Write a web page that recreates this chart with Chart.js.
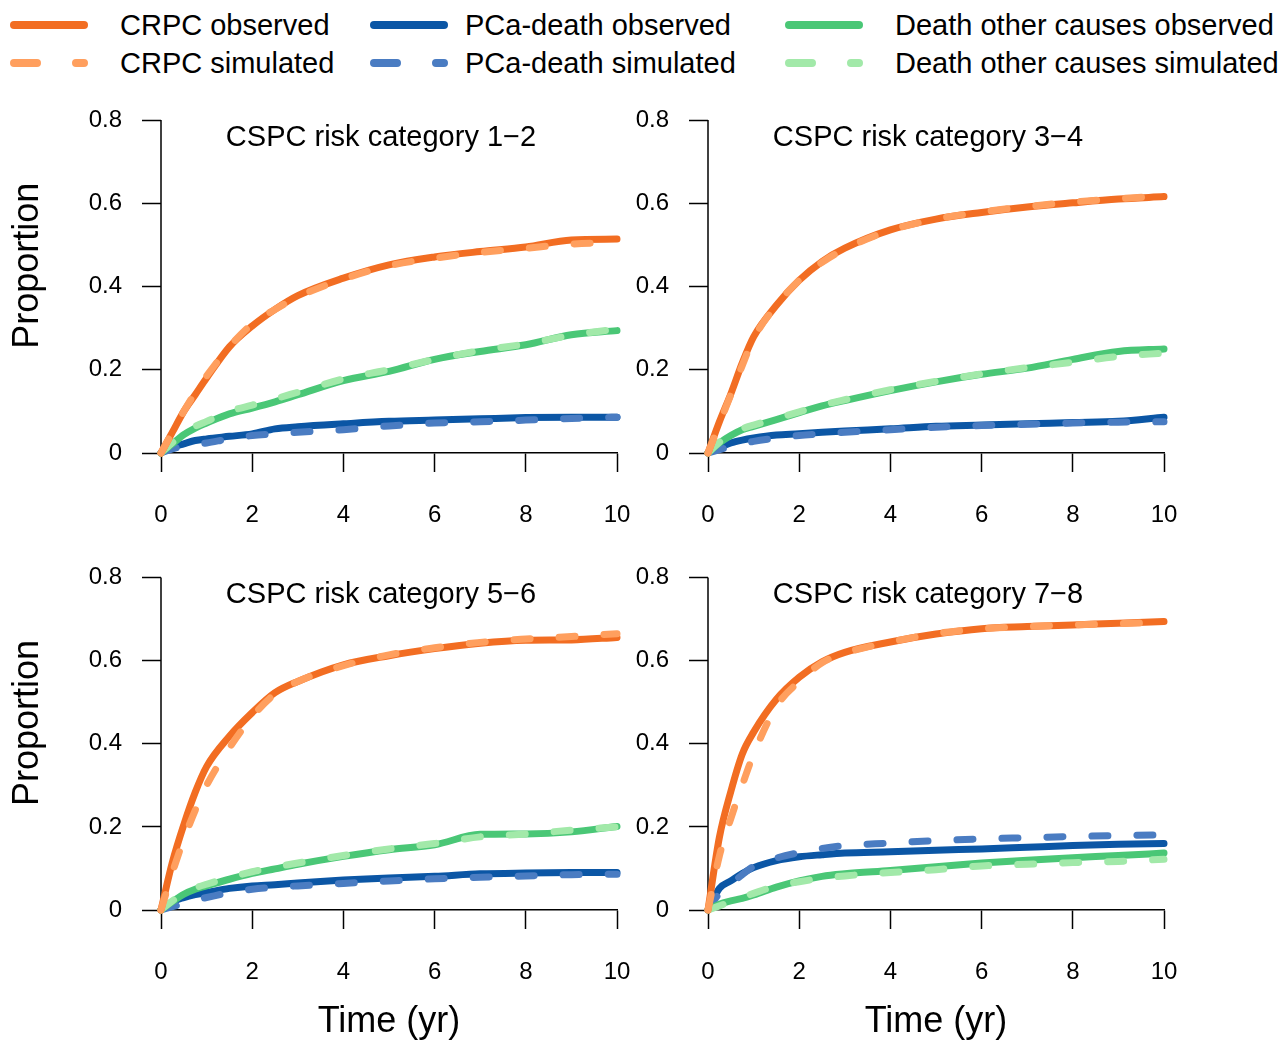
<!DOCTYPE html>
<html>
<head>
<meta charset="utf-8">
<title>CRPC, PCa-death and other-cause death: observed vs simulated</title>
<script src="https://cdn.jsdelivr.net/npm/chart.js@4.4.1/dist/chart.umd.min.js"></script>
<style>
  body {
    margin: 0;
    width: 1282px;
    height: 1041px;
    position: relative;
    overflow: hidden;
    background: #fff;
    font-family: "Liberation Sans", Arial, Helvetica, sans-serif;
  }
  canvas { position: absolute; }
  .key {
    position: absolute;
    height: 34px;
    line-height: 34px;
    font-size: 29px;
    color: #000;
    white-space: nowrap;
  }
  .key svg { position: absolute; left: 0; top: 0; }
  .key span { position: absolute; top: 0; }
</style>
</head>
<body>
<div id="legend"></div>
<canvas id="cat12" width="641" height="470"></canvas>
<canvas id="cat34" width="682" height="470"></canvas>
<canvas id="cat56" width="641" height="514"></canvas>
<canvas id="cat78" width="682" height="514"></canvas>

<script>
// time grid (years) the curves were read at
const timeYears = [0, 0.25, 0.5, 0.75, 1, 1.5, 2, 2.5, 3, 4, 5, 6, 7, 8, 9, 10];
const xTicks = [0, 2, 4, 6, 8, 10];
const yTicks = [0, 0.2, 0.4, 0.6, 0.8];

const seriesNames = [
  "CRPC observed", "CRPC simulated",
  "PCa-death observed", "PCa-death simulated",
  "Death other causes observed", "Death other causes simulated",
];
const panelTitles = [
  "CSPC risk category 1\u22122",
  "CSPC risk category 3\u22124",
  "CSPC risk category 5\u22126",
  "CSPC risk category 7\u22128",
];

// risk category 1-2
const crpcObs12  = [0, 0.05, 0.10, 0.14, 0.18, 0.255, 0.305, 0.345, 0.378, 0.42, 0.452, 0.471, 0.484, 0.495, 0.512, 0.514];
const crpcSim12  = [0, 0.05, 0.10, 0.145, 0.185, 0.255, 0.31, 0.345, 0.375, 0.418, 0.45, 0.468, 0.482, 0.492, 0.502, 0.506];
const pcaObs12   = [0, 0.014, 0.022, 0.03, 0.034, 0.04, 0.046, 0.058, 0.063, 0.07, 0.076, 0.079, 0.082, 0.085, 0.086, 0.086];
const pcaSim12   = [0, 0.01, 0.016, 0.02, 0.024, 0.034, 0.042, 0.046, 0.05, 0.056, 0.065, 0.072, 0.075, 0.079, 0.083, 0.086];
const otherObs12 = [0, 0.022, 0.044, 0.06, 0.072, 0.094, 0.108, 0.123, 0.14, 0.174, 0.196, 0.225, 0.244, 0.26, 0.284, 0.294];
const otherSim12 = [0, 0.025, 0.048, 0.064, 0.076, 0.10, 0.115, 0.13, 0.146, 0.178, 0.20, 0.225, 0.246, 0.262, 0.283, 0.298];

// risk category 3-4
const crpcObs34  = [0, 0.075, 0.142, 0.216, 0.279, 0.355, 0.415, 0.46, 0.492, 0.536, 0.562, 0.578, 0.591, 0.601, 0.61, 0.616];
const crpcSim34  = [0, 0.07, 0.14, 0.21, 0.275, 0.355, 0.415, 0.458, 0.49, 0.535, 0.562, 0.579, 0.592, 0.603, 0.611, 0.618];
const pcaObs34   = [0, 0.013, 0.024, 0.031, 0.036, 0.043, 0.046, 0.05, 0.053, 0.058, 0.064, 0.067, 0.07, 0.073, 0.076, 0.086];
const pcaSim34   = [0, 0.008, 0.016, 0.022, 0.028, 0.036, 0.042, 0.046, 0.05, 0.056, 0.062, 0.066, 0.069, 0.072, 0.074, 0.075];
const otherObs34 = [0, 0.024, 0.042, 0.056, 0.064, 0.08, 0.097, 0.113, 0.126, 0.15, 0.171, 0.189, 0.204, 0.225, 0.244, 0.25];
const otherSim34 = [0, 0.026, 0.044, 0.058, 0.067, 0.083, 0.099, 0.115, 0.128, 0.152, 0.172, 0.19, 0.205, 0.218, 0.232, 0.24];

// risk category 5-6
const crpcObs56  = [0, 0.115, 0.205, 0.283, 0.345, 0.418, 0.475, 0.523, 0.55, 0.59, 0.612, 0.629, 0.642, 0.649, 0.65, 0.656];
const crpcSim56  = [0, 0.09, 0.17, 0.24, 0.30, 0.39, 0.465, 0.52, 0.55, 0.588, 0.614, 0.631, 0.644, 0.652, 0.658, 0.665];
const pcaObs56   = [0, 0.02, 0.03, 0.037, 0.042, 0.052, 0.058, 0.061, 0.065, 0.072, 0.077, 0.081, 0.087, 0.089, 0.09, 0.09];
const pcaSim56   = [0, 0.008, 0.016, 0.024, 0.03, 0.042, 0.05, 0.055, 0.058, 0.064, 0.07, 0.075, 0.079, 0.082, 0.085, 0.086];
const otherObs56 = [0, 0.02, 0.038, 0.05, 0.058, 0.074, 0.088, 0.099, 0.11, 0.129, 0.145, 0.157, 0.182, 0.183, 0.188, 0.201];
const otherSim56 = [0, 0.022, 0.04, 0.053, 0.062, 0.078, 0.092, 0.103, 0.113, 0.131, 0.147, 0.16, 0.176, 0.183, 0.192, 0.20];

// risk category 7-8
const crpcObs78  = [0, 0.175, 0.285, 0.375, 0.428, 0.507, 0.56, 0.597, 0.62, 0.645, 0.664, 0.677, 0.682, 0.686, 0.69, 0.694];
const crpcSim78  = [0, 0.13, 0.22, 0.30, 0.375, 0.49, 0.55, 0.595, 0.618, 0.645, 0.665, 0.677, 0.682, 0.686, 0.689, 0.692];
const pcaObs78   = [0, 0.052, 0.07, 0.088, 0.102, 0.119, 0.128, 0.133, 0.137, 0.14, 0.144, 0.147, 0.151, 0.155, 0.158, 0.16];
const pcaSim78   = [0, 0.04, 0.062, 0.085, 0.105, 0.125, 0.138, 0.148, 0.155, 0.161, 0.167, 0.171, 0.174, 0.177, 0.179, 0.181];
const otherObs78 = [0, 0.014, 0.022, 0.028, 0.036, 0.055, 0.07, 0.081, 0.087, 0.095, 0.104, 0.113, 0.12, 0.126, 0.131, 0.137];
const otherSim78 = [0, 0.01, 0.02, 0.03, 0.04, 0.058, 0.068, 0.076, 0.082, 0.09, 0.097, 0.106, 0.11, 0.114, 0.117, 0.122];

// styles, same order as seriesNames
const lineColors = ["#f26d22", "#ff9f5e", "#0b56a5", "#4a7cc2", "#4ac776", "#a2e9a9"];
const dashed = [false, true, false, true, false, true];
const drawOrder = [1, 0, 5, 4, 3, 2]; // lower = on top

const FONT = '"Liberation Sans", Arial, Helvetica, sans-serif';
Chart.defaults.font.family = FONT;
Chart.defaults.color = "#000";

// legend (html)
const legendCols = [
  { line: 10, text: 120 },
  { line: 370, text: 465 },
  { line: 785, text: 895 },
];
const legendRows = [25, 63];
const legendBox = document.getElementById("legend");
seriesNames.forEach((name, i) => {
  const col = legendCols[Math.floor(i / 2)];
  const row = legendRows[i % 2];
  const div = document.createElement("div");
  div.className = "key";
  div.style.left = col.line + "px";
  div.style.top = (row - 17) + "px";
  const dash = dashed[i] ? ' stroke-dasharray="23 39"' : "";
  div.innerHTML =
    '<svg width="80" height="34"><line x1="4" y1="17" x2="74" y2="17" stroke="' + lineColors[i] +
    '" stroke-width="8" stroke-linecap="round"' + dash + '/></svg>' +
    '<span style="left:' + (col.text - col.line) + 'px">' + name + "</span>";
  legendBox.appendChild(div);
});

// y axis line only over the tick range, plus panel label inside the plot
const panelDecor = {
  id: "panelDecor",
  beforeDatasetsDraw(chart) {
    const { ctx, chartArea, scales } = chart;
    ctx.save();
    ctx.strokeStyle = "#000";
    ctx.lineWidth = 1.5;
    ctx.beginPath();
    ctx.moveTo(chartArea.left, scales.y.getPixelForValue(yTicks[0]) + 0.75);
    ctx.lineTo(chartArea.left, scales.y.getPixelForValue(yTicks[yTicks.length - 1]));
    ctx.stroke();
    ctx.restore();
  },
  afterDraw(chart, args, opts) {
    const { ctx, chartArea, scales } = chart;
    ctx.save();
    ctx.fillStyle = "#000";
    ctx.font = "29px " + FONT;
    ctx.textAlign = "center";
    ctx.textBaseline = "middle";
    ctx.fillText(opts.text, chartArea.left + 220, scales.y.getPixelForValue(0.757));
    ctx.restore();
  },
};

// keep label overhang from pushing the plot area around
function noOverhang(s) {
  s.paddingLeft = 0;
  s.paddingRight = 0;
  s.paddingTop = 0;
  s.paddingBottom = 0;
}

const panels = [
  { id: "cat12", left: 0,   top: 70,  w: 641, h: 470, area: [161, 617, 78.4, 453], yTitle: true,  xTitle: false,
    series: [crpcObs12, crpcSim12, pcaObs12, pcaSim12, otherObs12, otherSim12] },
  { id: "cat34", left: 600, top: 70,  w: 682, h: 470, area: [708, 1164, 78.4, 453], yTitle: false, xTitle: false,
    series: [crpcObs34, crpcSim34, pcaObs34, pcaSim34, otherObs34, otherSim34] },
  { id: "cat56", left: 0,   top: 527, w: 641, h: 514, area: [161, 617, 536, 910], yTitle: true,  xTitle: true,
    series: [crpcObs56, crpcSim56, pcaObs56, pcaSim56, otherObs56, otherSim56] },
  { id: "cat78", left: 600, top: 527, w: 682, h: 514, area: [708, 1164, 536, 910], yTitle: false, xTitle: true,
    series: [crpcObs78, crpcSim78, pcaObs78, pcaSim78, otherObs78, otherSim78] },
];

panels.forEach((p, k) => {
  const canvas = document.getElementById(p.id);
  canvas.style.left = p.left + "px";
  canvas.style.top = p.top + "px";
  const [aLeft, aRight, aTop, aBottom] = p.area;

  const datasets = p.series.map((vals, i) => ({
    label: seriesNames[i],
    data: timeYears.map((t, j) => ({ x: t, y: vals[j] })),
    borderColor: lineColors[i],
    backgroundColor: lineColors[i],
    borderWidth: 7,
    borderDash: dashed[i] ? [16, 29] : [],
    borderCapStyle: "round",
    borderJoinStyle: "round",
    cubicInterpolationMode: "monotone",
    pointRadius: 0,
    fill: false,
    clip: false,
    order: drawOrder[i],
  }));

  new Chart(canvas, {
    type: "line",
    data: { datasets },
    options: {
      responsive: false,
      animation: false,
      events: [],
      layout: {
        padding: { left: 0, top: aTop - p.top, right: p.left + p.w - aRight, bottom: 0 },
      },
      plugins: {
        legend: { display: false },
        tooltip: { enabled: false },
        panelDecor: { text: panelTitles[k] },
      },
      scales: {
        x: {
          type: "linear",
          min: 0,
          max: 10,
          afterBuildTicks: (s) => { s.ticks = xTicks.map((v) => ({ value: v })); },
          afterFit: (s) => { s.height = p.top + p.h - aBottom; noOverhang(s); },
          grid: { drawOnChartArea: false, drawTicks: true, tickLength: 19, tickWidth: 1.5, tickColor: "#000" },
          border: { display: true, color: "#000", width: 1.5 },
          ticks: { color: "#000", font: { size: 24 }, padding: 29, maxRotation: 0, autoSkip: false },
          title: { display: p.xTitle, text: "Time (yr)", color: "#000", font: { size: 36 }, padding: { top: 0, bottom: -3 } },
        },
        y: {
          type: "linear",
          min: 0,
          max: 0.9,
          afterBuildTicks: (s) => { s.ticks = yTicks.map((v) => ({ value: v })); },
          afterFit: (s) => { s.width = aLeft - p.left; noOverhang(s); },
          grid: { drawOnChartArea: false, drawTicks: true, tickLength: 19, tickWidth: 1.5, tickColor: "#000" },
          border: { display: false },
          ticks: { color: "#000", font: { size: 24 }, padding: 20, autoSkip: false },
          title: { display: p.yTitle, text: "Proportion", color: "#000", font: { size: 36 }, padding: { top: 6, bottom: 0 } },
        },
      },
    },
    plugins: [panelDecor],
  });
});
</script>
</body>
</html>
